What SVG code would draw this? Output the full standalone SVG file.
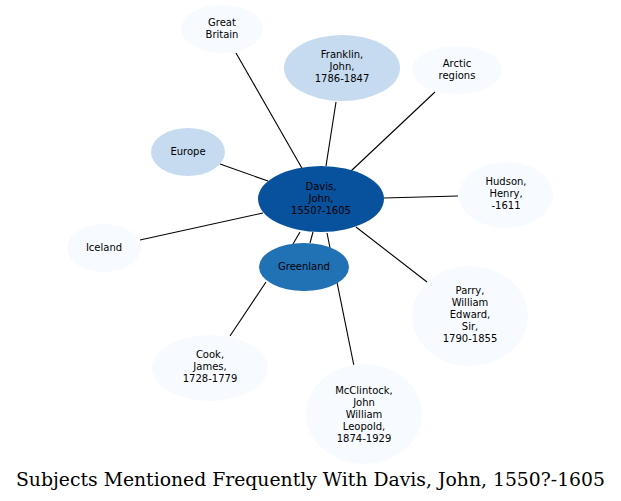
<svg xmlns="http://www.w3.org/2000/svg" width="621" height="501" viewBox="0 0 621 501">
<style>
.n text{font-family:"DejaVu Sans",sans-serif;font-size:10px;text-anchor:middle;fill:#000}
.l{fill:#f7fbff}
.m{fill:#c6dbef}
.e line{stroke:#000;stroke-width:1.1}
.t{font-family:"DejaVu Serif",serif;font-size:18px;text-anchor:middle}
</style>
<rect width="621" height="501" fill="#fff"/>
<g class="e" id="edges">
<line x1="303" y1="170" x2="236" y2="53"/>
<line x1="326" y1="166" x2="336" y2="102"/>
<line x1="351" y1="171" x2="435" y2="92"/>
<line x1="268" y1="181" x2="220" y2="164"/>
<line x1="384" y1="198" x2="458" y2="196"/>
<line x1="263" y1="213" x2="140" y2="240"/>
<line x1="300" y1="232" x2="293" y2="244"/>
<line x1="313" y1="232" x2="310" y2="243"/>
<line x1="356" y1="227" x2="427" y2="282"/>
<line x1="327" y1="233" x2="354" y2="366"/>
<line x1="266" y1="282" x2="230" y2="336"/>
</g>
<g class="n" id="great-britain"><ellipse class="l" cx="222" cy="29" rx="41" ry="24"/><text x="222" y="26">Great</text><text x="222" y="38">Britain</text></g>
<g class="n" id="franklin"><ellipse class="m" cx="342" cy="68" rx="58" ry="33"/><text x="342" y="58">Franklin,</text><text x="342" y="70">John,</text><text x="342" y="82">1786-1847</text></g>
<g class="n" id="arctic"><ellipse class="l" cx="457" cy="70" rx="45" ry="24"/><text x="457" y="67">Arctic</text><text x="457" y="79">regions</text></g>
<g class="n" id="europe"><ellipse class="m" cx="188" cy="152" rx="37" ry="24"/><text x="188" y="155">Europe</text></g>
<g class="n" id="davis"><ellipse fill="#08519c" cx="321" cy="199" rx="63" ry="33"/><text x="321" y="190">Davis,</text><text x="321" y="202">John,</text><text x="321" y="214">1550?-1605</text></g>
<g class="n" id="hudson"><ellipse class="l" cx="506" cy="195" rx="47" ry="33"/><text x="506" y="185">Hudson,</text><text x="506" y="197">Henry,</text><text x="506" y="209">-1611</text></g>
<g class="n" id="iceland"><ellipse class="l" cx="104" cy="248" rx="37" ry="24"/><text x="104" y="251">Iceland</text></g>
<g class="n" id="greenland"><ellipse fill="#2171b5" cx="304" cy="267" rx="45" ry="24"/><text x="304" y="270">Greenland</text></g>
<g class="n" id="parry"><ellipse class="l" cx="470" cy="316" rx="58" ry="50"/><text x="470" y="294">Parry,</text><text x="470" y="306">William</text><text x="470" y="318">Edward,</text><text x="470" y="330">Sir,</text><text x="470" y="342">1790-1855</text></g>
<g class="n" id="cook"><ellipse class="l" cx="210" cy="368" rx="58" ry="33"/><text x="210" y="358">Cook,</text><text x="210" y="370">James,</text><text x="210" y="382">1728-1779</text></g>
<g class="n" id="mcclintock"><ellipse class="l" cx="364" cy="414" rx="58" ry="50"/><text x="364" y="394">McClintock,</text><text x="364" y="406">John</text><text x="364" y="418">William</text><text x="364" y="430">Leopold,</text><text x="364" y="442">1874-1929</text></g>
<text class="t" x="310.5" y="486" textLength="589" lengthAdjust="spacingAndGlyphs">Subjects Mentioned Frequently With Davis, John, 1550?-1605</text>
</svg>
